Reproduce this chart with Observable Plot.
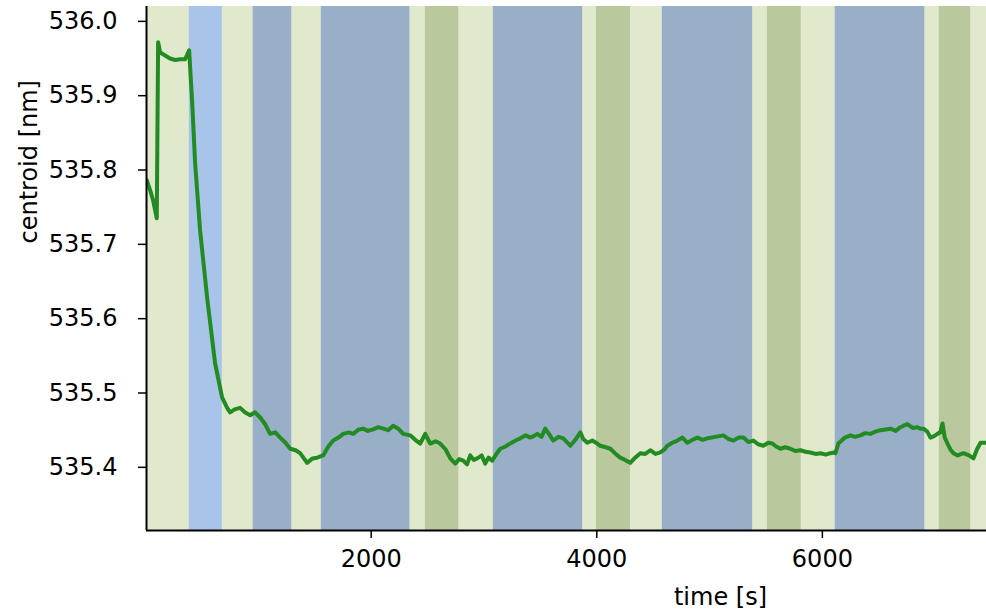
<!DOCTYPE html>
<html>
<head>
<meta charset="utf-8">
<script src="https://cdn.jsdelivr.net/npm/d3@7"></script>
<script src="https://cdn.jsdelivr.net/npm/@observablehq/plot@0.6"></script>
<style>
  html, body { margin: 0; padding: 0; background: #fff; }
  #chart { width: 986px; height: 614px; }
</style>
</head>
<body>
<div id="chart"></div>
<script>
// Background bands: [start s, end s, kind]
const bandStarts = [0, 386, 681, 953, 1299, 1557, 2346, 2479, 2780, 3082, 3878, 3996, 4303, 4581, 5385, 5512, 5814, 6113, 6911, 7035, 7318];
const bandEnds   = [386, 681, 953, 1299, 1557, 2346, 2479, 2780, 3082, 3878, 3996, 4303, 4581, 5385, 5512, 5814, 6113, 6911, 7035, 7318, 7500];
const bandKinds  = ["lg","lb","lg","db","lg","db","lg","ol","lg","db","lg","ol","lg","db","lg","ol","lg","db","lg","ol","lg"];
const kindColors = {lg: "#e1e9cd", lb: "#a8c4e8", db: "#99afc8", ol: "#bac89d"};

// Centroid trace: time [s] and centroid [nm]
const times = [11, 40, 67, 99, 111, 129, 173, 217, 262, 306, 350, 386, 412, 439, 483, 545, 616, 678, 723, 749, 790, 838, 880, 927, 970, 1016, 1060, 1104, 1150, 1193, 1240, 1282, 1330, 1370, 1432, 1480, 1521, 1574, 1620, 1663, 1710, 1752, 1800, 1840, 1890, 1929, 1970, 2018, 2060, 2106, 2150, 2195, 2240, 2284, 2346, 2390, 2435, 2479, 2523, 2570, 2612, 2660, 2701, 2745, 2780, 2816, 2850, 2878, 2910, 2940, 2980, 3011, 3040, 3073, 3110, 3144, 3190, 3233, 3280, 3322, 3370, 3410, 3440, 3472, 3510, 3543, 3580, 3614, 3660, 3703, 3735, 3765, 3810, 3854, 3880, 3916, 3960, 4004, 4031, 4080, 4120, 4160, 4208, 4250, 4297, 4340, 4386, 4430, 4474, 4520, 4563, 4600, 4625, 4670, 4714, 4760, 4803, 4850, 4891, 4940, 4980, 5050, 5122, 5170, 5211, 5260, 5300, 5345, 5388, 5430, 5477, 5520, 5557, 5590, 5628, 5670, 5717, 5760, 5805, 5850, 5894, 5940, 5983, 6030, 6071, 6100, 6116, 6142, 6200, 6249, 6290, 6338, 6380, 6426, 6470, 6515, 6560, 6603, 6650, 6692, 6720, 6754, 6800, 6843, 6870, 6896, 6930, 6958, 6990, 7020, 7045, 7065, 7085, 7109, 7135, 7162, 7200, 7251, 7300, 7339, 7370, 7402, 7446];
const centroid = [535.786, 535.773, 535.759, 535.735, 535.972, 535.958, 535.954, 535.950, 535.948, 535.949, 535.949, 535.961, 535.894, 535.809, 535.719, 535.629, 535.540, 535.494, 535.480, 535.474, 535.478, 535.480, 535.474, 535.470, 535.474, 535.467, 535.458, 535.445, 535.447, 535.440, 535.433, 535.425, 535.423, 535.419, 535.406, 535.412, 535.413, 535.416, 535.428, 535.436, 535.440, 535.445, 535.447, 535.445, 535.451, 535.452, 535.449, 535.451, 535.454, 535.452, 535.450, 535.456, 535.452, 535.445, 535.443, 535.437, 535.432, 535.445, 535.432, 535.435, 535.432, 535.424, 535.412, 535.405, 535.411, 535.409, 535.404, 535.416, 535.410, 535.412, 535.416, 535.405, 535.413, 535.409, 535.418, 535.425, 535.428, 535.432, 535.436, 535.439, 535.443, 535.440, 535.442, 535.445, 535.441, 535.452, 535.444, 535.436, 535.441, 535.439, 535.434, 535.429, 535.437, 535.447, 535.438, 535.433, 535.436, 535.432, 535.429, 535.427, 535.425, 535.419, 535.413, 535.410, 535.406, 535.413, 535.419, 535.418, 535.423, 535.418, 535.420, 535.424, 535.429, 535.433, 535.436, 535.440, 535.433, 535.437, 535.440, 535.437, 535.439, 535.441, 535.443, 535.438, 535.436, 535.440, 535.440, 535.434, 535.436, 535.431, 535.429, 535.433, 535.432, 535.428, 535.425, 535.427, 535.425, 535.422, 535.423, 535.421, 535.420, 535.418, 535.419, 535.417, 535.419, 535.420, 535.419, 535.432, 535.440, 535.443, 535.441, 535.443, 535.446, 535.445, 535.448, 535.450, 535.451, 535.452, 535.449, 535.454, 535.456, 535.458, 535.453, 535.454, 535.452, 535.452, 535.448, 535.440, 535.442, 535.445, 535.447, 535.459, 535.440, 535.432, 535.424, 535.419, 535.416, 535.419, 535.416, 535.412, 535.424, 535.433, 535.433];

const xTicks = [2000, 4000, 6000];
const yTicks = [535.4, 535.5, 535.6, 535.7, 535.8, 535.9, 536.0];

const xDomain = [8, 7455];
const yDomain = [535.315, 536.02];

const bands = bandStarts.map((s, i) => ({x1: s, x2: bandEnds[i], kind: bandKinds[i]}));
const trace = times.map((t, i) => ({t, c: centroid[i]}));

const chart = Plot.plot({
  width: 986,
  height: 614,
  marginLeft: 146,
  marginRight: 0,
  marginTop: 6,
  marginBottom: 84,
  style: {fontFamily: "DejaVu Sans, sans-serif", fontSize: "24px", background: "#fff", color: "#000"},
  x: {domain: xDomain},
  y: {domain: yDomain},
  marks: [
    Plot.rectX(bands, {x1: "x1", x2: "x2", y1: yDomain[0], y2: yDomain[1], fill: d => kindColors[d.kind], clip: true}),
    Plot.line(trace, {x: "t", y: "c", stroke: "#228b22", strokeWidth: 4, strokeLinejoin: "round", clip: true}),
    Plot.axisX({ticks: xTicks, tickFormat: d => String(d), tickSize: 8, tickPadding: 11, strokeWidth: 1.5, fontSize: 24, label: null}),
    Plot.axisY({ticks: yTicks, tickFormat: d => d.toFixed(1), tickSize: 8, tickPadding: 21, strokeWidth: 1.5, fontSize: 24, label: null}),
    Plot.ruleX([xDomain[0]], {stroke: "#000", strokeWidth: 2}),
    Plot.ruleY([yDomain[0]], {stroke: "#000", strokeWidth: 2}),
    Plot.text(["centroid [nm]"], {frameAnchor: "left", dx: -117, dy: -25, rotate: -90, fontSize: 24, lineAnchor: "middle", fill: "#000"}),
    Plot.text(["time [s]"], {frameAnchor: "bottom", dx: 154, dy: 67, fontSize: 24, lineAnchor: "middle", fill: "#000"})
  ]
});
document.getElementById("chart").appendChild(chart);
</script>
</body>
</html>
